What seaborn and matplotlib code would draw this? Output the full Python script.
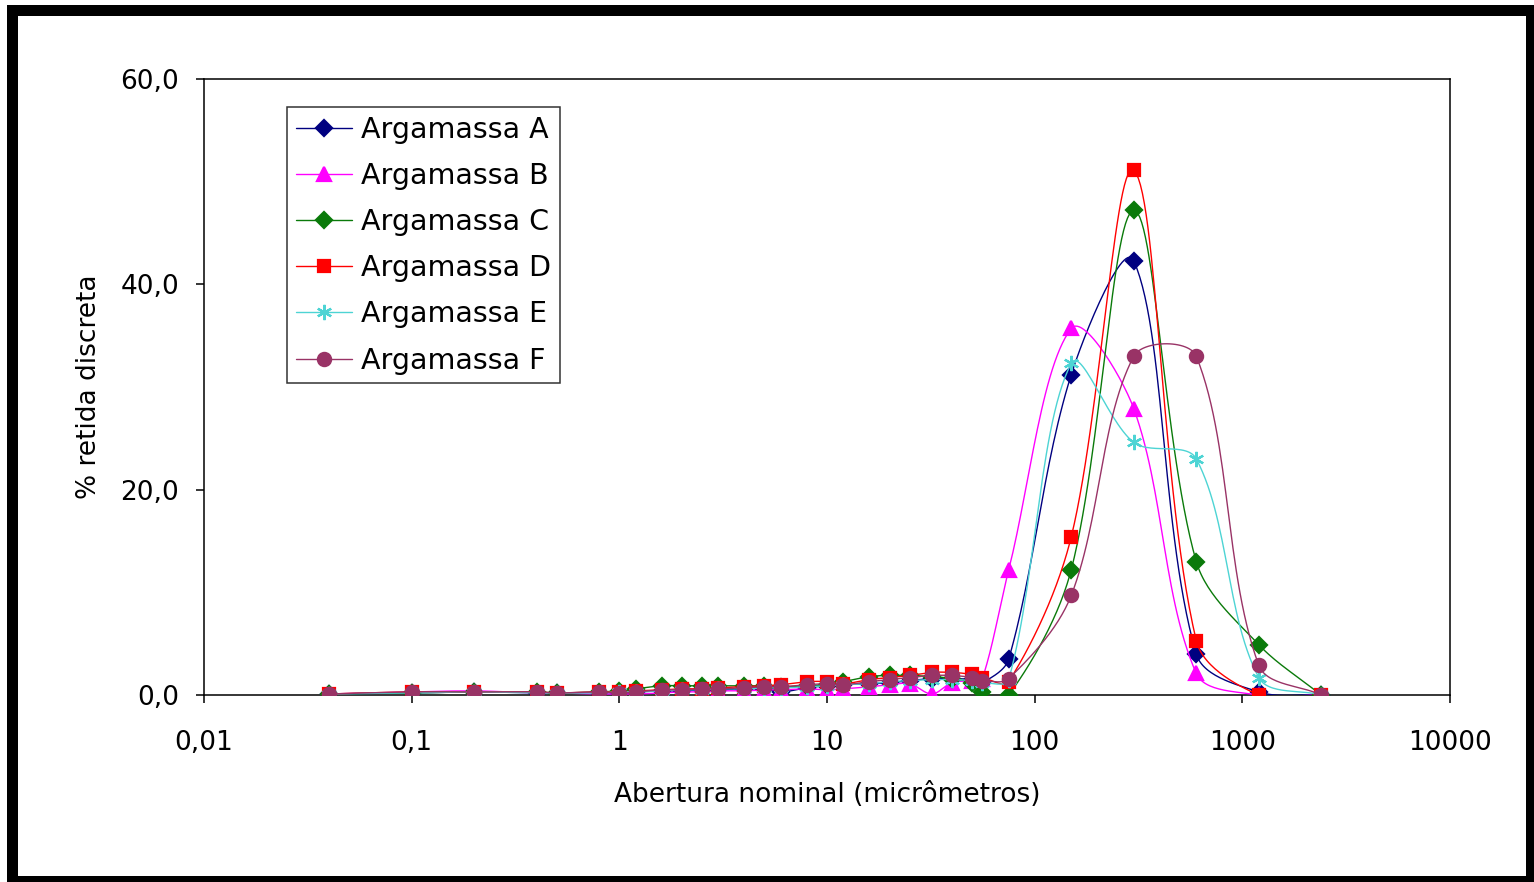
import numpy as np
import pandas as pd
import matplotlib
matplotlib.use('Agg')
import matplotlib.pyplot as plt
from matplotlib.lines import Line2D
from matplotlib.patches import Rectangle
from matplotlib.ticker import FixedLocator, FuncFormatter, NullLocator
import seaborn as sns

# abertura nominal (micrometros): granulometria a laser + peneiras
sizes = [0.04, 0.1, 0.2, 0.4, 0.5, 0.8, 1, 1.2, 1.6, 2, 2.5, 3, 4, 5, 6, 8,
         10, 12, 16, 20, 25, 32, 40, 50, 56, 75, 150, 300, 600, 1200, 2400]

arg_a = [0.1, 0.2, 0.3, 0.2, 0.2, 0.2, 0.2, 0.3, 0.4, 0.4, 0.5, 0.5, 0.6, 0.6, 0.3, 0.7,
         0.9, 1.0, 1.1, 1.2, 1.4, 1.6, 1.6, 1.5, 1.2, 3.5, 31.2, 42.3, 4.0, 0.3, 0.0]
arg_b = [0.1, 0.3, 0.4, 0.2, 0.2, 0.1, 0.1, 0.1, 0.2, 0.3, 0.3, 0.4, 0.4, 0.5, 0.5, 0.6,
         0.5, 0.6, 0.8, 1.0, 1.1, 0.1, 1.2, 1.4, 1.6, 12.2, 35.7, 27.9, 2.1, 0.0, 0.0]
arg_c = [0.1, 0.2, 0.3, 0.3, 0.2, 0.3, 0.4, 0.6, 0.9, 0.9, 0.9, 0.9, 0.9, 0.9, 0.8, 0.9,
         1.0, 1.3, 1.8, 1.9, 1.9, 1.8, 1.6, 1.2, 0.3, 0.0, 12.2, 47.2, 13.0, 4.9, 0.0]
arg_d = [0.1, 0.3, 0.3, 0.3, 0.2, 0.3, 0.3, 0.4, 0.5, 0.6, 0.6, 0.7, 0.8, 0.9, 1.0, 1.3,
         1.3, 1.1, 1.5, 1.7, 1.9, 2.2, 2.2, 2.0, 1.7, 1.3, 15.4, 51.1, 5.3, 0.0, 0.0]
arg_e = [0.1, 0.2, 0.3, 0.2, 0.2, 0.2, 0.3, 0.3, 0.4, 0.5, 0.5, 0.6, 0.6, 0.7, 0.7, 0.8,
         0.9, 1.0, 1.1, 1.3, 1.4, 1.5, 1.5, 1.4, 1.2, 1.5, 32.3, 24.6, 23.0, 1.7, 0.0]
arg_f = [0.1, 0.3, 0.3, 0.3, 0.2, 0.3, 0.2, 0.3, 0.5, 0.5, 0.6, 0.6, 0.7, 0.8, 0.8, 1.0,
         1.1, 1.0, 1.3, 1.5, 1.7, 1.9, 1.9, 1.7, 1.4, 1.6, 9.7, 33.0, 33.0, 2.9, 0.0]

names = ['Argamassa A', 'Argamassa B', 'Argamassa C', 'Argamassa D', 'Argamassa E', 'Argamassa F']
valores = [arg_a, arg_b, arg_c, arg_d, arg_e, arg_f]
cores = ['#000080', '#FF00FF', '#0A7A0A', '#FF0000', '#4DD4D4', '#993366']
marcadores = ['D', '^', 'D', 's', (6, 2, 0), 'o']
tam = [8.5, 10.5, 8.5, 9, 11, 9.5]

xticks = [0.01, 0.1, 1, 10, 100, 1000, 10000]
yticks = [0, 20, 40, 60]

# escala aproximada em pixels (para a suavizacao tipo Excel)
PX_DEC = (1450 - 204) / 6
PX_UN = (695 - 79) / 60


def suavizar(xs, ys, n=30):
    # linha suavizada estilo Excel: bezier com tangentes ponderadas pela distancia
    X = np.log10(np.asarray(xs, float)) * PX_DEC
    Y = np.asarray(ys, float) * PX_UN
    X = np.concatenate([[X[0]], X, [X[-1]]])
    Y = np.concatenate([[Y[0]], Y, [Y[-1]]])
    t = np.linspace(0, 1, n)
    out_x, out_y = [], []
    for i in range(1, len(X) - 2):
        d01 = np.hypot(X[i] - X[i - 1], Y[i] - Y[i - 1])
        d12 = np.hypot(X[i + 1] - X[i], Y[i + 1] - Y[i])
        d23 = np.hypot(X[i + 2] - X[i + 1], Y[i + 2] - Y[i + 1])
        f1 = d12 / (d01 + d12) if d01 + d12 > 0 else 0
        f2 = d12 / (d12 + d23) if d12 + d23 > 0 else 0
        c1x = X[i] + (X[i + 1] - X[i - 1]) * f1 / 3
        c1y = Y[i] + (Y[i + 1] - Y[i - 1]) * f1 / 3
        c2x = X[i + 1] - (X[i + 2] - X[i]) * f2 / 3
        c2y = Y[i + 1] - (Y[i + 2] - Y[i]) * f2 / 3
        bx = (1-t)**3*X[i] + 3*(1-t)**2*t*c1x + 3*(1-t)*t**2*c2x + t**3*X[i + 1]
        by = (1-t)**3*Y[i] + 3*(1-t)**2*t*c1y + 3*(1-t)*t**2*c2y + t**3*Y[i + 1]
        out_x.extend(bx)
        out_y.extend(by)
    return 10 ** (np.array(out_x) / PX_DEC), np.array(out_y) / PX_UN


sns.set_style('ticks')
plt.rcParams['font.family'] = ['DejaVu Sans']
plt.rcParams['text.color'] = 'black'
plt.rcParams['axes.labelcolor'] = 'black'

fig = plt.figure(figsize=(15.34, 8.82), dpi=100)
ax = fig.add_axes([204 / 1534, 1 - 695 / 882, (1450 - 204) / 1534, (695 - 79) / 882])

for i, nome in enumerate(names):
    sx, sy = suavizar(sizes, valores[i])
    df = pd.DataFrame({'x': sx, 'y': sy})
    sns.lineplot(data=df, x='x', y='y', ax=ax, color=cores[i], linewidth=1.0,
                 sort=False, estimator=None, zorder=3 + i)
    ax.plot(sizes, valores[i], ls='none', marker=marcadores[i], markersize=tam[i],
            color=cores[i], markeredgecolor=cores[i], markeredgewidth=1.6, zorder=3 + i)

ax.set_xscale('log')
ax.set_xlim(0.01, 10000)
ax.set_ylim(0, 60)
ax.xaxis.set_major_locator(FixedLocator(xticks))
ax.xaxis.set_minor_locator(NullLocator())
ax.yaxis.set_major_locator(FixedLocator(yticks))
ax.xaxis.set_major_formatter(FuncFormatter(lambda v, p: ('%g' % v).replace('.', ',')))
ax.yaxis.set_major_formatter(FuncFormatter(lambda v, p: ('%.1f' % v).replace('.', ',')))

for s in ax.spines.values():
    s.set_visible(True)
    s.set_color('black')
    s.set_linewidth(1.1)

ax.tick_params(axis='both', direction='out', length=6, width=1.1, colors='black',
               labelsize=19)
ax.tick_params(axis='y', pad=12)
ax.tick_params(axis='x', pad=19)
ax.set_xlabel('Abertura nominal (micrômetros)', fontsize=19, labelpad=19, color='black')
ax.set_ylabel('% retida discreta', fontsize=19, labelpad=13, color='black')

handles = [Line2D([0], [0], color=cores[i], lw=1.0, marker=marcadores[i],
                  markersize=tam[i], markeredgewidth=1.6, markeredgecolor=cores[i])
           for i in range(len(names))]
leg = ax.legend(handles, names, loc='upper left', bbox_to_anchor=(0.0666, 0.9545),
                borderaxespad=0, fontsize=20.5, frameon=True, fancybox=False,
                edgecolor='black', handlelength=2.0, handletextpad=0.3,
                labelspacing=0.64, borderpad=0.3, labelcolor='black')
leg.get_frame().set_linewidth(1.1)

# moldura preta da imagem
W, H = 1534, 882
moldura = [(7, 0, 11, 877), (7, 866, 1527, 11), (1526, 0, 8, 877), (7, 0, 1527, 6)]
for (x0, y0, w, h) in moldura:
    fig.add_artist(Rectangle((x0 / W, y0 / H), w / W, h / H, transform=fig.transFigure,
                             facecolor='black', edgecolor='none'))

fig.savefig('out.png', dpi=100)
